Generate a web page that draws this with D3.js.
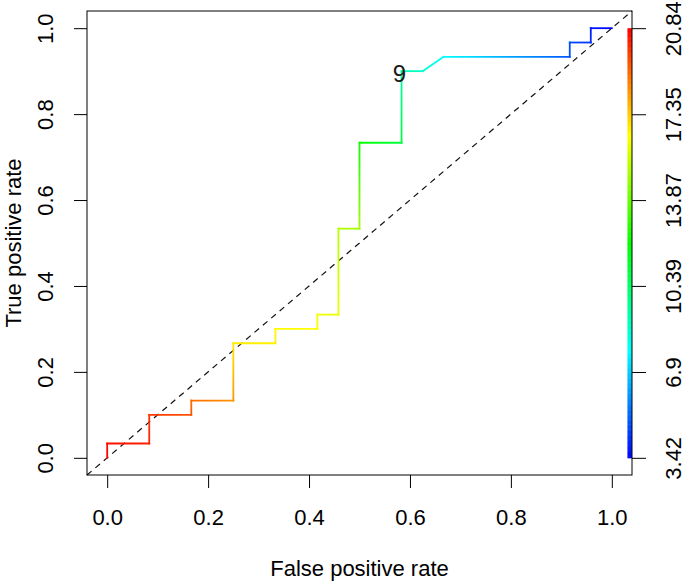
<!DOCTYPE html>
<html><head><meta charset="utf-8">
<script src="https://cdn.jsdelivr.net/npm/d3@7"></script>
<style>body{margin:0;background:#fff}svg{display:block}text{font-family:"Liberation Sans",Arial,sans-serif}</style>
</head><body>
<svg id="c" width="685" height="583"></svg>
<script>
// ROC curve points (false positive rate, true positive rate) and cutoffs
const fpr = [0, 0, 2/24, 2/24, 4/24, 4/24, 6/24, 6/24, 8/24, 8/24, 10/24, 10/24, 11/24, 11/24, 12/24, 12/24, 14/24, 14/24, 15/24, 16/24, 22/24, 22/24, 23/24, 23/24, 1];
const tpr = [0, 1/30, 1/30, 3/30, 3/30, 4/30, 4/30, 8/30, 8/30, 9/30, 9/30, 10/30, 10/30, 16/30, 16/30, 22/30, 22/30, 27/30, 27/30, 28/30, 28/30, 29/30, 29/30, 1, 1];
const cutoffs = [20.84, 20.62, 20.26, 19.97, 19.39, 19.03, 18.30, 16.85, 16.70, 16.56, 16.49, 16.34, 16.12, 15.18, 14.89, 12.28, 11.04, 9.23, 8.65, 7.78, 4.87, 4.73, 4.29, 3.78, 3.42];
const axisTicks = [0, 0.2, 0.4, 0.6, 0.8, 1.0];
const cutoffTicks = [3.42, 6.9, 10.39, 13.87, 17.35, 20.84];
const cutoffTickLabels = ["3.42", "6.9", "10.39", "13.87", "17.35", "20.84"];
const cutLabel = {index: 17, text: "9"};

const svg = d3.select("#c");
const L = 87, R = 632, T = 11, B = 475;
const x = d3.scaleLinear().domain([-0.04, 1.04]).range([L, R]);
const y = d3.scaleLinear().domain([-0.04, 1.04]).range([B, T]);
const cMin = d3.min(cutoffs), cMax = d3.max(cutoffs);
const hue = d3.scaleLinear().domain([cMin, cMax]).range([240, 0]);
const col = c => d3.hsl(hue(c), 1, 0.5).formatHex();
const fs = 22;

// diagonal
svg.append("line").attr("x1", x(-0.04)).attr("y1", y(-0.04)).attr("x2", x(1.04)).attr("y2", y(1.04))
  .attr("stroke", "#111").attr("stroke-width", 1.2).attr("stroke-dasharray", "6,5");

// curve segments with gradients
const defs = svg.append("defs");
for (let i = 0; i < fpr.length - 1; i++) {
  const x1 = x(fpr[i]), y1 = y(tpr[i]), x2 = x(fpr[i+1]), y2 = y(tpr[i+1]);
  const g = defs.append("linearGradient").attr("id", "g" + i).attr("gradientUnits", "userSpaceOnUse")
    .attr("x1", x1).attr("y1", y1).attr("x2", x2).attr("y2", y2);
  g.append("stop").attr("offset", 0).attr("stop-color", col(cutoffs[i]));
  g.append("stop").attr("offset", 1).attr("stop-color", col(cutoffs[i+1]));
  svg.append("line").attr("x1", x1).attr("y1", y1).attr("x2", x2).attr("y2", y2)
    .attr("stroke", `url(#g${i})`).attr("stroke-width", 1.8).attr("stroke-linecap", "square");
}

// cutoff label
svg.append("text").attr("x", x(fpr[cutLabel.index]) - 2).attr("y", y(tpr[cutLabel.index]) + 11)
  .attr("text-anchor", "middle").attr("font-size", 24).attr("fill", "#1a1a1a").text(cutLabel.text);

// colorbar
const cb = d3.scaleLinear().domain([cMin, cMax]).range([y(0), y(1)]);
const nCol = 256;
const step = (cMax - cMin) / nCol;
for (let k = 0; k < nCol; k++) {
  const v0 = cMin + k * step, v1 = v0 + step;
  svg.append("rect").attr("x", 627.5).attr("width", 4.5)
    .attr("y", cb(v1)).attr("height", cb(v0) - cb(v1) + 0.5)
    .attr("fill", col(v0 + step / 2));
}

// box
svg.append("rect").attr("x", L).attr("y", T).attr("width", R - L).attr("height", B - T)
  .attr("fill", "none").attr("stroke", "#000").attr("stroke-width", 1);

// axes
const tk = 13;
const xa = svg.append("g").attr("transform", `translate(0,${B})`)
  .call(d3.axisBottom(x).tickValues(axisTicks).tickFormat(d3.format(".1f")).tickSize(tk).tickPadding(21));
const ya = svg.append("g").attr("transform", `translate(${L},0)`)
  .call(d3.axisLeft(y).tickValues(axisTicks).tickFormat(d3.format(".1f")).tickSize(tk));
const ra = svg.append("g").attr("transform", `translate(${R},0)`)
  .call(d3.axisRight(cb).tickValues(cutoffTicks).tickFormat((d, i) => cutoffTickLabels[i]).tickSize(tk + 1));
[xa, ya, ra].forEach(a => {
  a.select(".domain").remove();
  a.selectAll("line").attr("stroke", "#000");
  a.selectAll("text").attr("font-size", fs).attr("fill", "#000").style("font-family", '"Liberation Sans",Arial,sans-serif');
});
ya.selectAll("text").attr("x", null).attr("dy", null).attr("text-anchor", "middle")
  .attr("transform", "translate(-42,0) rotate(-90)").attr("dy", "0.35em");
ra.selectAll("text").attr("x", null).attr("dy", null).attr("text-anchor", "middle")
  .attr("transform", "translate(41,0) rotate(-90)").attr("dy", "0.35em");

// titles
svg.append("text").attr("x", (L + R) / 2).attr("y", 576).attr("text-anchor", "middle")
  .attr("font-size", fs).text("False positive rate");
svg.append("text").attr("transform", `translate(21,${(T + B) / 2}) rotate(-90)`).attr("text-anchor", "middle")
  .attr("font-size", fs).text("True positive rate");
</script>
</body></html>
